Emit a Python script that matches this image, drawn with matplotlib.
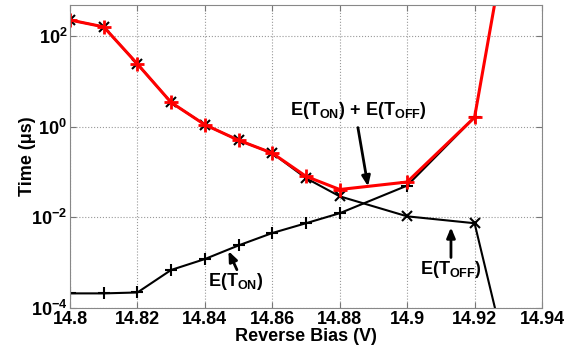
import numpy as np
import matplotlib
matplotlib.use("Agg")
import matplotlib.pyplot as plt
from matplotlib.ticker import FixedLocator, FuncFormatter, NullLocator

plt.rcParams["font.family"] = ["Liberation Sans", "DejaVu Sans"]
plt.rcParams["font.weight"] = "bold"
plt.rcParams["mathtext.fontset"] = "custom"
plt.rcParams["mathtext.rm"] = "Liberation Sans:bold"
plt.rcParams["mathtext.bf"] = "Liberation Sans:bold"
plt.rcParams["mathtext.default"] = "bf"

# Reverse bias (V) and times (us)
bias_on = [14.80, 14.81, 14.82, 14.83, 14.84, 14.85, 14.86, 14.87, 14.88, 14.90, 14.92]
t_on = [2.1e-4, 2.1e-4, 2.2e-4, 6.9e-4, 1.2e-3, 2.4e-3, 4.5e-3, 7.4e-3, 1.23e-2, 5.0e-2, 1.6]

bias_off = [14.80, 14.81, 14.82, 14.83, 14.84, 14.85, 14.86, 14.87, 14.88, 14.90, 14.92, 14.93]
t_off = [224, 158, 24, 3.4, 1.1, 0.5, 0.26, 0.073, 0.029, 0.0105, 0.0074, 6e-6]

bias_tot = [14.80, 14.81, 14.82, 14.83, 14.84, 14.85, 14.86, 14.87, 14.88, 14.90, 14.92, 14.93]
t_tot = [224, 158, 24, 3.4, 1.1, 0.5, 0.26, 0.08, 0.041, 0.06, 1.6, 2.5e4]

xticks = [14.80, 14.82, 14.84, 14.86, 14.88, 14.90, 14.92, 14.94]
yticks = [1e-4, 1e-2, 1e0, 1e2]

fig = plt.figure(figsize=(5.74, 3.52), dpi=100)
ax = fig.add_axes([70 / 574, 1 - 308 / 352, 472 / 574, 303 / 352])

ax.plot(bias_on, t_on, color="black", lw=1.5, marker="+", ms=9, mew=1.5)
ax.plot(bias_off, t_off, color="black", lw=1.5, marker="x", ms=7, mew=1.5)
ax.plot(bias_tot, t_tot, color="red", lw=2.2, marker="+", ms=10, mew=2)

ax.set_yscale("log")
ax.set_xlim(14.8, 14.94)
ax.set_ylim(1e-4, 480)
ax.xaxis.set_major_locator(FixedLocator(xticks))
ax.xaxis.set_major_formatter(FuncFormatter(lambda v, p: f"{v:g}"))
ax.yaxis.set_major_locator(FixedLocator(yticks))
ax.yaxis.set_minor_locator(NullLocator())
ax.yaxis.set_major_formatter(FuncFormatter(lambda v, p: r"$10^{%d}$" % round(np.log10(v))))
ax.tick_params(direction="in", length=4, labelsize=13, color="#777777", pad=2,
               top=True, right=True)
ax.grid(True, linestyle=":", color="#999999", lw=0.8)
for s in ax.spines.values():
    s.set_color("#888888")

ax.set_xlabel("Reverse Bias (V)", fontsize=13, fontweight="bold", labelpad=0)
ax.set_ylabel("Time (μs)", fontsize=13, fontweight="bold", labelpad=-4)

arr = dict(arrowstyle="-|>,head_width=0.25,head_length=0.6", color="black", lw=2,
           shrinkA=0, shrinkB=0)

# annotation texts
ax.text(14.8653, 1.8, r"E(T$_{ON}$) + E(T$_{OFF}$)", fontsize=13, fontweight="bold",
        ha="left", va="baseline")
ax.text(14.8409, 3.0e-4, r"E(T$_{ON}$)", fontsize=13, fontweight="bold",
        ha="left", va="baseline")
ax.text(14.9038, 5.6e-4, r"E(T$_{OFF}$)", fontsize=13, fontweight="bold",
        ha="left", va="baseline")

# arrows
ax.annotate("", xy=(14.8884, 0.048), xytext=(14.8854, 0.95), arrowprops=arr)
ax.annotate("", xy=(14.8470, 1.8e-3), xytext=(14.8495, 7.0e-4), arrowprops=arr)
ax.annotate("", xy=(14.913, 6.0e-3), xytext=(14.913, 1.3e-3), arrowprops=arr)

fig.savefig("out.png", dpi=100)
